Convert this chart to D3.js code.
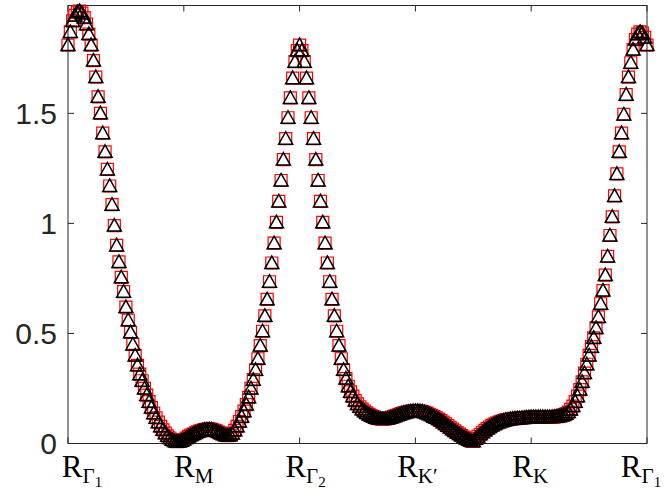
<!DOCTYPE html>
<html>
<head>
<meta charset="utf-8">
<script src="https://cdn.jsdelivr.net/npm/d3@7/dist/d3.min.js"></script>
<style>
body { margin: 0; background: #fff; }
svg { display: block; }
</style>
</head>
<body>
<svg id="chart"></svg>
<script>
// values along the path, 50 samples per segment
var gammaToM = [
	1.81, 1.87, 1.92, 1.945, 1.96, 1.965, 1.955, 1.935, 1.905, 1.86,
	1.81, 1.74, 1.665, 1.575, 1.50, 1.41, 1.325, 1.245, 1.17, 1.085,
	0.99, 0.90, 0.825, 0.755, 0.69, 0.62, 0.56, 0.505, 0.45, 0.40,
	0.355, 0.315, 0.285, 0.25, 0.22, 0.19, 0.163, 0.138, 0.117, 0.097,
	0.078, 0.062, 0.047, 0.035, 0.025, 0.017, 0.011, 0.008, 0.009, 0.013
];
var mToGamma2 = [
	0.018, 0.025, 0.032, 0.038, 0.043, 0.048, 0.053, 0.057, 0.06, 0.063,
	0.064, 0.065, 0.064, 0.061, 0.057, 0.052, 0.047, 0.042, 0.038, 0.036,
	0.038, 0.046, 0.06, 0.078, 0.10, 0.122, 0.147, 0.177, 0.21, 0.25,
	0.29, 0.335, 0.385, 0.445, 0.51, 0.58, 0.655, 0.735, 0.82, 0.91,
	1.005, 1.10, 1.195, 1.29, 1.385, 1.48, 1.57, 1.66, 1.735, 1.785
];
var gamma2ToKp = [
	1.81, 1.785, 1.735, 1.66, 1.57, 1.48, 1.385, 1.29, 1.195, 1.10,
	1.005, 0.91, 0.82, 0.735, 0.655, 0.58, 0.51, 0.445, 0.385, 0.335,
	0.295, 0.26, 0.235, 0.215, 0.195, 0.18, 0.167, 0.156, 0.147, 0.139,
	0.132, 0.126, 0.121, 0.117, 0.114, 0.112, 0.111, 0.112, 0.114, 0.117,
	0.12, 0.124, 0.128, 0.132, 0.136, 0.139, 0.142, 0.144, 0.146, 0.147
];
var kpToK = [
	0.148, 0.148, 0.147, 0.145, 0.142, 0.138, 0.133, 0.128, 0.122, 0.117,
	0.111, 0.104, 0.097, 0.089, 0.081, 0.073, 0.065, 0.057, 0.05, 0.043,
	0.036, 0.029, 0.023, 0.017, 0.012, 0.01, 0.022, 0.032, 0.042, 0.051,
	0.06, 0.068, 0.075, 0.082, 0.088, 0.093, 0.097, 0.101, 0.104, 0.107,
	0.109, 0.111, 0.112, 0.113, 0.114, 0.115, 0.116, 0.117, 0.118, 0.119
];
var kToGamma = [
	0.12, 0.12, 0.12, 0.12, 0.12, 0.12, 0.12, 0.12, 0.12, 0.12,
	0.121, 0.122, 0.124, 0.127, 0.13, 0.135, 0.143, 0.155, 0.17, 0.19,
	0.215, 0.245, 0.28, 0.32, 0.36, 0.40, 0.44, 0.48, 0.525, 0.575,
	0.635, 0.695, 0.765, 0.85, 0.945, 1.03, 1.125, 1.225, 1.325, 1.41,
	1.495, 1.585, 1.665, 1.73, 1.79, 1.835, 1.86, 1.87, 1.865, 1.845,
	1.81
];

var tickPos = [0, 1, 2, 3, 4, 5];
var tickSub = ["Γ", "M", "Γ", "K′", "K", "Γ"];
var tickSubSub = ["1", "", "2", "", "", "1"];
var yTicks = [0, 0.5, 1, 1.5];

var segments = [gammaToM, mToGamma2, gamma2ToKp, kpToK, kToGamma];
var perSegment = 50;

var width = 665, height = 494;
var plotLeft = 68, plotRight = 647, plotTop = 5.5, plotBottom = 443.5;
var axisColor = "#262626";
var labelNudge = [14, 10, 6, 2, -1, -6];

var points = [];
segments.forEach(function(seg, s) {
	seg.forEach(function(v, j) {
		points.push({ t: s + j / perSegment, v: v });
	});
});

var x = d3.scaleLinear().domain([0, 5]).range([plotLeft, plotRight]);
var y = d3.scaleLinear().domain([0, 1.99]).range([plotBottom, plotTop]);

var svg = d3.select("#chart")
	.attr("width", width)
	.attr("height", height);

svg.append("rect")
	.attr("width", width)
	.attr("height", height)
	.style("fill", "#fff");

// box
svg.append("rect")
	.attr("x", plotLeft)
	.attr("y", plotTop)
	.attr("width", plotRight - plotLeft)
	.attr("height", plotBottom - plotTop)
	.style("fill", "none")
	.style("stroke", axisColor)
	.style("stroke-width", 1);

// inward ticks on all four sides
svg.append("g").selectAll("line")
	.data(tickPos)
	.enter()
	.append("line")
	.attr("x1", function(d) { return x(d); })
	.attr("x2", function(d) { return x(d); })
	.attr("y1", plotBottom)
	.attr("y2", plotBottom - 6)
	.style("stroke", axisColor);
svg.append("g").selectAll("line")
	.data(tickPos)
	.enter()
	.append("line")
	.attr("x1", function(d) { return x(d); })
	.attr("x2", function(d) { return x(d); })
	.attr("y1", plotTop)
	.attr("y2", plotTop + 6)
	.style("stroke", axisColor);
svg.append("g").selectAll("line")
	.data(yTicks)
	.enter()
	.append("line")
	.attr("x1", plotLeft)
	.attr("x2", plotLeft + 6)
	.attr("y1", function(d) { return y(d); })
	.attr("y2", function(d) { return y(d); })
	.style("stroke", axisColor);
svg.append("g").selectAll("line")
	.data(yTicks)
	.enter()
	.append("line")
	.attr("x1", plotRight)
	.attr("x2", plotRight - 6)
	.attr("y1", function(d) { return y(d); })
	.attr("y2", function(d) { return y(d); })
	.style("stroke", axisColor);

// y labels
svg.append("g").selectAll("text")
	.data(yTicks)
	.enter()
	.append("text")
	.attr("x", plotLeft - 11)
	.attr("y", function(d) { return y(d); })
	.attr("dy", "0.36em")
	.style("text-anchor", "end")
	.style("font-family", "'Liberation Sans', Arial, Helvetica, sans-serif")
	.style("font-size", "30px")
	.style("fill", axisColor)
	.text(function(d) { return d; });

// x labels  R_{sub}
var xl = svg.append("g").selectAll("text")
	.data(tickPos)
	.enter()
	.append("text")
	.attr("x", function(d, i) { return x(d) + labelNudge[i]; })
	.attr("y", 477)
	.style("text-anchor", "middle")
	.style("font-family", "'Liberation Serif', 'DejaVu Serif', serif")
	.style("font-size", "31px")
	.style("fill", "#000");
xl.append("tspan").text("R");
xl.append("tspan")
	.attr("dy", 6)
	.style("font-size", "21px")
	.text(function(d, i) { return tickSub[i]; });
xl.append("tspan")
	.attr("dy", 4)
	.style("font-size", "15px")
	.text(function(d, i) { return tickSubSub[i]; });

// red squares underneath, black triangles on top
var square = d3.symbol().type(d3.symbolSquare).size(144);
svg.append("g").selectAll("path")
	.data(points)
	.enter()
	.append("path")
	.attr("d", square)
	.attr("transform", function(d) { return "translate(" + x(d.t) + "," + y(d.v) + ")"; })
	.style("fill", "none")
	.style("stroke", "#ff0000")
	.style("stroke-width", 1.2);

svg.append("g").selectAll("path")
	.data(points)
	.enter()
	.append("path")
	.attr("d", "M0,-7L7,5.5L-7,5.5Z")
	.attr("transform", function(d) { return "translate(" + x(d.t) + "," + y(d.v) + ")"; })
	.style("fill", "none")
	.style("stroke", "#000")
	.style("stroke-width", 1.5)
	.style("stroke-linejoin", "miter");
</script>
</body>
</html>
